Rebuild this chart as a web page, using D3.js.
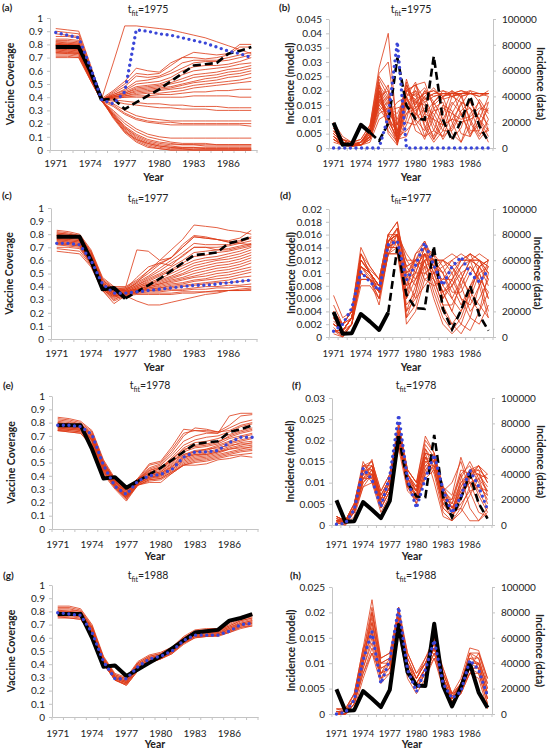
<!DOCTYPE html>
<html><head><meta charset="utf-8">
<script src="https://cdn.jsdelivr.net/npm/d3@7"></script>
<style>body{margin:0;background:#fff}svg text{font-family:Lato,'Open Sans',sans-serif;fill:#222}</style>
</head><body><svg id="c" width="549" height="751"></svg>
<script>
const years = [1971,1972,1973,1974,1975,1976,1977,1978,1979,1980,1981,1982,1983,1984,1985,1986,1987,1988];
const xTickYears = [1971,1974,1977,1980,1983,1986];
const covTicks = [0,0.1,0.2,0.3,0.4,0.5,0.6,0.7,0.8,0.9,1];
const incTicksRight = [0,20000,40000,60000,80000,100000];
const incTicksB = [0,0.005,0.01,0.015,0.02,0.025,0.03,0.035,0.04,0.045];
const incTicksD = [0,0.002,0.004,0.006,0.008,0.01,0.012,0.014,0.016,0.018,0.02];
const incTicksF = [0,0.005,0.01,0.015,0.02,0.025,0.03];
const incTicksH = [0,0.005,0.01,0.015,0.02,0.025];

// observed data
const covData = [.78,.78,.78,.60,.38,.39,.31,.36,.41,.46,.52,.58,.64,.65,.66,.73,.75,.78];
const incData = [19500,2500,3000,18000,12000,5500,19000,70000,33000,22500,22000,71000,22000,6000,21000,40000,17000,5000];

// best-fit (blue dotted)
const blueA = [.89,.87,.85,.63,.38,.35,.44,.91,.90,.88,.87,.85,.83,.81,.78,.75,.73,.70];
const blueB = [0,0,0,0,0,0,.011,.037,0,0,0,0,0,0,0,0,0,0];
const blueC = [.73,.73,.72,.60,.42,.35,.35,.36,.37,.38,.39,.40,.41,.41,.42,.43,.44,.45];
const blueD = [.0009,.002,.0045,.0102,.0086,.0073,.0144,.015,.0089,.0112,.0147,.0112,.0081,.011,.0125,.0099,.0086,.0105];
const blueE = [.78,.78,.77,.71,.48,.32,.26,.36,.40,.41,.45,.54,.58,.58,.59,.65,.69,.69];
const blueF = [.0002,.0004,.0036,.0134,.0107,.0043,.0115,.026,.0107,.004,.011,.0166,.0083,.0028,.0067,.013,.0091,.0036];
const blueG = [.79,.78,.77,.64,.42,.29,.29,.38,.44,.46,.50,.58,.62,.62,.62,.65,.70,.71];
const blueH = [0,.0003,.0028,.0106,.0162,.006,.0106,.021,.0087,.0044,.0087,.0145,.006,.0031,.0044,.0106,.0087,.0035];

// model ensemble (red)
const redA = [
[.92,.91,.90,.65,.39,.66,.94,.94,.93,.92,.91,.89,.87,.85,.82,.79,.76,.73],
[.90,.89,.88,.64,.39,.45,.52,.62,.60,.59,.66,.70,.74,.73,.72,.73,.80,.80],
[.88,.87,.86,.63,.38,.44,.50,.58,.57,.58,.64,.70,.70,.69,.70,.72,.78,.78],
[.86,.86,.85,.62,.38,.43,.48,.56,.55,.56,.60,.66,.68,.68,.68,.70,.72,.74],
[.84,.84,.83,.61,.38,.42,.46,.52,.53,.55,.58,.62,.66,.67,.67,.68,.70,.72],
[.83,.83,.82,.60,.38,.42,.45,.50,.51,.52,.55,.60,.63,.64,.64,.65,.67,.70],
[.82,.82,.81,.60,.38,.41,.44,.48,.49,.50,.53,.57,.60,.61,.62,.63,.65,.66],
[.81,.81,.80,.59,.38,.41,.43,.47,.48,.49,.51,.54,.57,.58,.59,.61,.62,.64],
[.80,.80,.79,.59,.38,.41,.43,.46,.47,.48,.50,.52,.55,.56,.57,.59,.60,.62],
[.80,.79,.79,.58,.38,.40,.42,.45,.46,.47,.48,.50,.52,.54,.55,.57,.58,.60],
[.79,.79,.78,.58,.38,.40,.42,.44,.45,.46,.47,.49,.51,.52,.53,.55,.56,.58],
[.79,.78,.78,.58,.38,.40,.41,.43,.44,.45,.46,.47,.49,.50,.51,.52,.53,.55],
[.78,.78,.77,.57,.38,.40,.41,.42,.43,.43,.44,.45,.47,.48,.49,.50,.51,.52],
[.78,.77,.77,.57,.38,.39,.40,.41,.41,.42,.42,.43,.44,.44,.45,.45,.46,.46],
[.77,.77,.76,.57,.38,.39,.40,.40,.40,.40,.40,.40,.41,.41,.41,.41,.40,.40],
[.77,.76,.76,.56,.38,.38,.37,.36,.35,.35,.34,.34,.33,.33,.33,.32,.32,.32],
[.76,.76,.75,.56,.38,.37,.35,.34,.33,.32,.32,.31,.31,.31,.30,.30,.30,.30],
[.76,.75,.75,.56,.38,.35,.30,.26,.24,.23,.22,.22,.22,.22,.22,.22,.22,.22],
[.75,.75,.74,.55,.38,.34,.28,.24,.22,.21,.21,.20,.20,.20,.20,.20,.20,.20],
[.75,.74,.74,.55,.37,.33,.27,.23,.21,.20,.19,.19,.19,.19,.19,.19,.19,.18],
[.74,.74,.73,.55,.37,.30,.22,.16,.12,.10,.09,.09,.09,.09,.09,.09,.09,.09],
[.74,.73,.73,.54,.37,.29,.20,.14,.10,.08,.06,.05,.05,.05,.04,.04,.04,.04],
[.73,.73,.72,.54,.37,.28,.18,.12,.08,.06,.05,.04,.04,.03,.03,.03,.03,.03],
[.72,.72,.71,.54,.37,.27,.17,.10,.06,.04,.03,.02,.02,.01,.01,.01,.01,.01],
[.71,.71,.70,.53,.37,.26,.15,.08,.04,.02,.01,.01,0,0,0,0,0,0],
[.70,.70,.70,.53,.37,.25,.14,.07,.03,.01,0,0,0,0,0,0,0,0],
[.81,.80,.80,.59,.38,.24,.13,.06,.02,.01,0,0,0,0,0,0,0,0],
[.79,.79,.78,.58,.38,.25,.14,.08,.05,.03,.02,.01,.01,.01,.01,.01,.01,.01],
[.82,.81,.81,.60,.38,.26,.16,.09,.05,.03,.02,.02,.02,.02,.02,.02,.02,.02],
[.80,.80,.79,.59,.38,.27,.17,.11,.07,.05,.04,.04,.04,.04,.04,.04,.04,.04]
];
const redB = [
[.009,.004,.002,.003,.008,.028,.04,.005,.022,.015,.02,.018,.019,.019,.019,.019,.019,.019],
[.008,.003,.002,.002,.007,.025,.02,.003,.02,.022,.017,.019,.02,.019,.019,.019,.019,.019],
[.007,.003,.001,.002,.006,.024,.018,.004,.018,.02,.016,.018,.019,.019,.02,.019,.019,.019],
[.006,.002,.001,.002,.006,.022,.017,.006,.022,.016,.019,.02,.018,.019,.019,.019,.019,.019],
[.005,.002,.001,.002,.005,.021,.016,.008,.024,.014,.018,.021,.017,.018,.019,.019,.018,.019],
[.005,.002,.001,.001,.005,.02,.015,.01,.02,.018,.021,.016,.019,.018,.019,.02,.019,.018],
[.004,.001,.001,.001,.004,.019,.014,.012,.019,.017,.019,.02,.018,.019,.018,.019,.019,.019],
[.004,.002,.001,.002,.004,.018,.02,.002,.018,.023,.012,.016,.02,.018,.019,.019,.019,.019],
[.003,.001,.001,.001,.004,.017,.013,.014,.015,.013,.017,.019,.019,.019,.02,.019,.019,.019],
[.003,.001,.001,.001,.003,.016,.012,.016,.018,.011,.02,.015,.018,.02,.018,.019,.018,.02],
[.008,.003,.001,.002,.007,.023,.008,.002,.014,.02,.01,.004,.012,.02,.012,.004,.01,.018],
[.006,.002,.001,.002,.006,.02,.006,.002,.01,.022,.012,.003,.008,.018,.016,.006,.006,.016],
[.005,.002,.001,.001,.005,.018,.01,.003,.012,.017,.008,.003,.01,.016,.012,.005,.008,.014],
[.004,.002,.001,.001,.004,.015,.018,.002,.008,.016,.015,.006,.004,.012,.018,.01,.004,.01],
[.003,.001,.001,.001,.003,.013,.016,.003,.004,.012,.018,.01,.003,.008,.016,.014,.005,.006],
[.007,.003,.001,.002,.005,.016,.022,.004,.006,.01,.014,.012,.006,.006,.012,.014,.01,.006],
[.004,.001,.0005,.001,.003,.012,.014,.006,.009,.008,.012,.01,.008,.01,.009,.01,.012,.008],
[.002,.001,.0005,.001,.002,.01,.012,.008,.016,.006,.004,.014,.016,.005,.002,.012,.016,.006],
[.006,.002,.001,.001,.004,.014,.009,.004,.018,.009,.003,.011,.018,.009,.002,.008,.017,.012],
[.005,.002,.001,.002,.006,.019,.012,.001,.021,.014,.004,.006,.015,.013,.005,.004,.013,.016],
[.003,.001,.001,.001,.004,.015,.011,.005,.023,.01,.006,.016,.01,.003,.007,.017,.009,.002],
[.007,.002,.001,.002,.006,.022,.005,.001,.016,.019,.007,.002,.006,.015,.019,.009,.003,.007],
[.004,.001,.001,.001,.004,.017,.01,.006,.012,.014,.016,.008,.004,.007,.013,.016,.01,.004],
[.008,.003,.002,.003,.008,.026,.03,.008,.02,.022,.023,.014,.008,.01,.015,.02,.016,.01],
[.005,.002,.001,.002,.005,.02,.01,.003,.017,.012,.009,.013,.014,.012,.01,.011,.014,.013]
];
const redC = [
[.83,.82,.80,.68,.47,.40,.40,.45,.52,.60,.68,.76,.87,.86,.85,.83,.82,.80],
[.82,.81,.79,.67,.46,.39,.39,.68,.67,.60,.62,.70,.78,.77,.76,.75,.77,.83],
[.81,.80,.78,.66,.45,.38,.39,.44,.50,.57,.62,.70,.78,.77,.76,.74,.75,.78],
[.80,.79,.78,.65,.44,.38,.38,.43,.48,.54,.60,.66,.73,.72,.72,.72,.74,.77],
[.79,.79,.77,.64,.43,.37,.38,.42,.47,.52,.58,.63,.70,.70,.70,.71,.73,.75],
[.78,.78,.77,.63,.42,.36,.37,.41,.46,.50,.55,.60,.66,.67,.68,.69,.71,.73],
[.77,.77,.76,.62,.42,.36,.37,.41,.45,.49,.53,.58,.63,.64,.66,.67,.69,.71],
[.76,.76,.75,.61,.41,.35,.36,.40,.44,.48,.52,.56,.60,.62,.63,.65,.67,.70],
[.75,.75,.74,.60,.40,.34,.36,.40,.43,.46,.50,.54,.58,.60,.61,.63,.65,.68],
[.74,.74,.73,.60,.40,.34,.35,.39,.42,.45,.48,.52,.56,.58,.60,.61,.63,.66],
[.73,.73,.72,.59,.39,.33,.35,.39,.42,.44,.47,.50,.54,.56,.58,.59,.61,.64],
[.72,.72,.71,.58,.38,.32,.34,.38,.41,.43,.46,.49,.52,.54,.56,.57,.59,.62],
[.80,.79,.78,.64,.43,.37,.37,.38,.40,.42,.45,.47,.50,.52,.54,.55,.57,.60],
[.79,.78,.77,.63,.42,.36,.36,.38,.40,.42,.44,.46,.48,.50,.52,.53,.55,.58],
[.78,.77,.76,.62,.41,.35,.36,.37,.39,.41,.43,.45,.47,.48,.50,.51,.53,.55],
[.77,.76,.75,.61,.40,.35,.35,.37,.39,.40,.42,.43,.45,.46,.48,.49,.51,.53],
[.76,.75,.74,.60,.40,.34,.35,.37,.38,.39,.41,.42,.44,.45,.46,.47,.49,.51],
[.75,.74,.73,.59,.39,.33,.34,.36,.38,.39,.40,.41,.42,.43,.44,.45,.47,.48],
[.74,.73,.72,.58,.39,.33,.34,.36,.37,.38,.39,.40,.41,.42,.43,.43,.44,.45],
[.73,.72,.71,.58,.38,.32,.34,.36,.37,.37,.38,.38,.39,.40,.40,.41,.41,.42],
[.72,.71,.70,.57,.38,.31,.33,.35,.36,.36,.37,.37,.38,.38,.39,.39,.40,.40],
[.70,.70,.69,.57,.38,.30,.34,.35,.35,.35,.35,.36,.36,.36,.37,.37,.37,.38],
[.67,.66,.65,.55,.37,.27,.33,.34,.34,.34,.34,.35,.35,.36,.36,.37,.37,.37],
[.69,.68,.67,.56,.37,.29,.33,.29,.26,.26,.28,.30,.32,.34,.35,.37,.38,.39],
[.81,.80,.79,.66,.45,.38,.38,.47,.55,.58,.62,.72,.79,.78,.76,.74,.73,.72],
[.79,.78,.78,.64,.43,.37,.37,.43,.52,.58,.56,.64,.70,.70,.68,.68,.70,.72]
];
const redD = [
[.0065,.003,.004,.014,.011,.009,.016,.018,.010,.008,.013,.012,.012,.013,.012,.012,.012,.011],
[.005,.002,.004,.013,.010,.008,.015,.017,.012,.010,.014,.011,.010,.012,.013,.012,.011,.012],
[.004,.002,.003,.012,.010,.008,.015,.016,.013,.011,.013,.010,.009,.011,.012,.013,.012,.010],
[.003,.001,.003,.011,.0095,.007,.014,.016,.011,.012,.014,.012,.008,.010,.012,.012,.013,.012],
[.002,.001,.003,.010,.009,.007,.014,.015,.009,.013,.015,.011,.007,.009,.011,.013,.012,.009],
[.001,.0005,.002,.010,.009,.006,.013,.015,.008,.012,.015,.012,.006,.008,.011,.012,.011,.008],
[.002,.001,.003,.011,.010,.008,.015,.015,.007,.010,.014,.013,.008,.006,.009,.012,.012,.010],
[.003,.002,.004,.012,.0105,.009,.016,.014,.006,.009,.013,.012,.010,.007,.007,.010,.012,.011],
[.001,.001,.003,.009,.009,.007,.014,.014,.005,.007,.012,.013,.011,.008,.005,.008,.011,.012],
[.0005,0,.002,.008,.008,.006,.013,.013,.004,.006,.011,.012,.012,.010,.006,.005,.008,.011],
[.002,.001,.003,.010,.009,.008,.015,.016,.003,.005,.010,.011,.012,.011,.008,.004,.006,.009],
[.004,.002,.004,.013,.010,.007,.014,.017,.002,.004,.009,.010,.011,.012,.010,.006,.004,.007],
[.003,.001,.003,.011,.009,.005,.013,.016,.004,.008,.012,.008,.004,.002,.004,.008,.010,.006],
[.002,.001,.003,.010,.009,.007,.015,.017,.010,.011,.012,.007,.003,.001,.003,.007,.011,.009],
[.001,0,.002,.009,.009,.008,.014,.015,.011,.012,.011,.006,.002,.0005,.002,.006,.010,.011],
[.003,.002,.004,.012,.010,.008,.016,.018,.009,.010,.010,.009,.005,.002,.0005,.003,.008,.012],
[.002,.001,.003,.010,.009,.007,.014,.014,.008,.009,.011,.010,.007,.004,.002,.001,.004,.010],
[.004,.002,.004,.013,.011,.009,.016,.016,.012,.012,.009,.008,.009,.009,.006,.003,.002,.005],
[.001,.001,.002,.009,.009,.006,.013,.013,.006,.011,.013,.009,.005,.005,.008,.011,.009,.004],
[.002,.001,.003,.011,.010,.008,.015,.016,.003,.007,.013,.011,.007,.004,.009,.012,.008,.003],
[.003,.002,.003,.012,.010,.007,.014,.015,.009,.006,.008,.010,.012,.011,.009,.007,.005,.003],
[.001,.0005,.002,.010,.009,.007,.013,.014,.007,.013,.014,.010,.006,.009,.012,.013,.010,.006],
[.0025,.001,.003,.011,.010,.008,.015,.016,.011,.009,.012,.012,.010,.006,.004,.007,.011,.012],
[.0015,0,.002,.010,.009,.007,.014,.015,.010,.012,.013,.009,.007,.008,.010,.011,.009,.007]
];
const redE = [
[.84,.83,.81,.74,.52,.38,.28,.38,.49,.51,.62,.75,.74,.73,.72,.85,.87,.87],
[.83,.82,.80,.73,.51,.37,.27,.37,.46,.49,.58,.70,.76,.75,.73,.78,.85,.86],
[.82,.81,.79,.72,.50,.36,.27,.37,.45,.48,.56,.66,.70,.72,.72,.76,.80,.82],
[.81,.80,.79,.71,.49,.36,.26,.36,.44,.46,.54,.63,.67,.69,.70,.73,.77,.79],
[.80,.79,.78,.70,.48,.35,.26,.36,.43,.45,.52,.61,.65,.66,.68,.71,.74,.76],
[.79,.79,.78,.70,.48,.35,.26,.36,.42,.44,.51,.59,.63,.64,.66,.69,.72,.74],
[.79,.78,.77,.69,.47,.34,.25,.35,.41,.43,.50,.58,.61,.62,.64,.68,.70,.72],
[.78,.78,.77,.69,.47,.34,.25,.35,.41,.43,.49,.56,.59,.60,.63,.66,.69,.71],
[.78,.77,.76,.68,.46,.34,.25,.35,.40,.42,.48,.55,.58,.59,.62,.65,.67,.69],
[.77,.77,.76,.68,.46,.33,.25,.35,.40,.42,.47,.54,.57,.58,.60,.64,.66,.68],
[.77,.76,.75,.67,.45,.33,.24,.34,.39,.41,.46,.53,.56,.57,.59,.62,.65,.66],
[.76,.76,.75,.67,.45,.33,.24,.34,.39,.40,.45,.52,.55,.56,.58,.61,.63,.65],
[.76,.75,.74,.66,.44,.32,.24,.34,.38,.40,.45,.51,.54,.55,.57,.60,.62,.63],
[.75,.75,.74,.66,.44,.32,.23,.34,.38,.39,.44,.50,.53,.54,.56,.58,.60,.62],
[.75,.74,.73,.65,.43,.32,.23,.33,.37,.38,.43,.49,.52,.53,.55,.57,.59,.60],
[.74,.74,.73,.64,.43,.31,.23,.33,.37,.38,.43,.48,.51,.52,.54,.56,.58,.59],
[.74,.73,.72,.63,.42,.31,.22,.33,.36,.37,.42,.48,.50,.51,.53,.55,.56,.57],
[.74,.73,.72,.62,.41,.30,.21,.33,.35,.35,.42,.48,.48,.49,.52,.53,.55,.54],
[.80,.79,.78,.71,.50,.37,.29,.37,.48,.50,.60,.72,.74,.74,.73,.74,.78,.80],
[.78,.77,.77,.70,.49,.37,.30,.38,.42,.46,.53,.60,.62,.63,.65,.70,.73,.75],
[.77,.76,.76,.68,.48,.35,.29,.37,.44,.47,.51,.56,.58,.60,.61,.63,.64,.64],
[.76,.75,.75,.67,.46,.36,.28,.36,.39,.41,.47,.54,.56,.56,.58,.60,.61,.61]
];
const redF = [
[.002,.001,.004,.013,.015,.008,.012,.024,.013,.010,.020,.017,.009,.005,.010,.013,.014,.012],
[.0015,.001,.005,.014,.014,.007,.011,.023,.012,.009,.019,.016,.008,.004,.009,.012,.013,.011],
[.001,.0005,.004,.012,.0155,.006,.010,.022,.012,.008,.018,.015,.007,.003,.008,.012,.012,.009],
[.001,.001,.003,.011,.014,.006,.010,.022,.011,.008,.017,.016,.008,.004,.007,.010,.011,.008],
[.0005,.0005,.003,.010,.013,.005,.009,.021,.011,.007,.016,.015,.007,.005,.012,.014,.010,.006],
[.0005,0,.003,.009,.012,.005,.009,.020,.010,.007,.015,.015,.008,.006,.013,.012,.008,.004],
[.001,.001,.004,.013,.012,.004,.008,.020,.011,.006,.014,.016,.006,.003,.011,.015,.011,.005],
[.002,.001,.005,.015,.011,.004,.008,.022,.010,.005,.012,.017,.005,.002,.009,.013,.013,.007],
[.0015,.0005,.004,.013,.010,.003,.007,.021,.009,.005,.013,.016,.004,.002,.006,.011,.014,.010],
[.001,.0005,.003,.011,.011,.004,.008,.019,.009,.006,.012,.014,.006,.004,.008,.010,.009,.007],
[.0005,0,.002,.009,.010,.005,.009,.018,.008,.006,.011,.013,.005,.003,.010,.012,.007,.003],
[.001,.001,.004,.012,.014,.007,.011,.023,.012,.009,.016,.012,.003,.001,.004,.009,.012,.011],
[.002,.001,.005,.014,.015,.008,.012,.024,.013,.010,.017,.010,.002,.001,.003,.007,.011,.012],
[.001,.0005,.003,.011,.013,.006,.010,.021,.010,.008,.015,.013,.004,.002,.005,.008,.009,.008],
[.0015,.001,.004,.012,.012,.006,.010,.020,.009,.007,.013,.015,.009,.007,.016,.010,.005,.002],
[.001,.001,.004,.013,.013,.006,.011,.022,.011,.008,.014,.014,.008,.010,.015,.008,.003,.002],
[.0005,.0005,.003,.010,.012,.005,.009,.019,.010,.007,.016,.014,.006,.006,.012,.004,.001,.003],
[.002,.001,.005,.014,.013,.005,.009,.022,.012,.008,.018,.013,.005,.003,.004,.001,.001,.004],
[.001,.0005,.004,.012,.014,.007,.011,.021,.013,.010,.021,.017,.009,.004,.006,.012,.014,.010],
[.001,.001,.003,.011,.012,.005,.009,.020,.011,.009,.017,.016,.007,.003,.007,.013,.012,.008]
];
const redG = [
[.84,.84,.82,.70,.46,.33,.30,.42,.47,.49,.53,.61,.66,.67,.67,.72,.76,.78],
[.83,.83,.81,.69,.45,.32,.29,.41,.46,.48,.53,.60,.65,.66,.67,.71,.75,.77],
[.82,.82,.80,.68,.45,.32,.29,.41,.46,.48,.52,.60,.65,.66,.66,.70,.74,.76],
[.81,.81,.80,.68,.44,.31,.28,.40,.45,.47,.52,.59,.64,.65,.66,.69,.73,.75],
[.81,.80,.79,.67,.44,.31,.28,.40,.45,.47,.51,.59,.64,.65,.65,.69,.73,.75],
[.80,.80,.79,.67,.43,.30,.27,.39,.44,.47,.51,.58,.63,.64,.65,.68,.72,.74],
[.80,.79,.78,.66,.43,.30,.27,.39,.44,.46,.51,.58,.63,.64,.64,.68,.71,.73],
[.79,.79,.78,.66,.43,.30,.27,.38,.44,.46,.50,.58,.62,.63,.64,.67,.71,.73],
[.79,.78,.77,.65,.42,.29,.26,.38,.43,.46,.50,.57,.62,.63,.63,.67,.70,.72],
[.78,.78,.77,.65,.42,.29,.26,.37,.43,.45,.50,.57,.62,.62,.63,.66,.70,.72],
[.78,.77,.76,.64,.41,.29,.26,.37,.42,.45,.49,.57,.61,.62,.63,.66,.69,.71],
[.77,.77,.76,.64,.41,.28,.25,.36,.42,.45,.49,.56,.61,.62,.62,.65,.69,.71],
[.76,.76,.75,.63,.41,.28,.25,.36,.42,.44,.49,.56,.61,.61,.62,.65,.68,.70],
[.76,.75,.74,.62,.40,.28,.24,.35,.41,.44,.48,.56,.60,.61,.62,.64,.68,.69],
[.75,.75,.74,.62,.40,.28,.24,.35,.41,.44,.48,.55,.60,.61,.61,.64,.67,.69]
];
const redH = [
[.001,.001,.004,.013,.0225,.011,.012,.021,.012,.008,.011,.015,.009,.004,.007,.013,.0125,.007],
[.001,.0005,.004,.012,.021,.010,.011,.020,.011,.007,.010,.015,.008,.004,.006,.012,.012,.006],
[.0005,.0005,.003,.012,.020,.010,.011,.020,.011,.007,.010,.014,.008,.0035,.006,.012,.011,.005],
[.0005,.0005,.003,.011,.019,.009,.010,.019,.010,.007,.010,.014,.008,.0035,.006,.011,.011,.005],
[.0005,0,.003,.011,.018,.009,.010,.019,.010,.006,.009,.014,.007,.003,.005,.011,.010,.004],
[.0005,0,.003,.010,.017,.008,.010,.019,.009,.006,.009,.013,.007,.003,.005,.010,.010,.004],
[0,0,.002,.010,.016,.008,.009,.018,.009,.006,.009,.013,.007,.003,.005,.010,.009,.003],
[0,0,.002,.009,.015,.008,.009,.018,.009,.005,.009,.013,.006,.003,.005,.009,.009,.003],
[0,0,.002,.009,.014,.007,.009,.017,.008,.005,.008,.012,.006,.0025,.004,.009,.008,.002],
[0,0,.002,.008,.013,.007,.008,.017,.008,.005,.008,.012,.006,.0025,.004,.008,.008,.002],
[0,0,.001,.007,.012,.006,.008,.016,.007,.004,.007,.011,.005,.002,.004,.008,.007,.001],
[.001,.001,.004,.013,.016,.007,.010,.021,.010,.007,.011,.014,.007,.003,.006,.012,.009,.003],
[.0005,0,.003,.010,.020,.011,.012,.018,.008,.005,.008,.011,.006,.003,.005,.009,.012,.007],
[0,0,.002,.008,.012,.008,.011,.020,.012,.008,.010,.013,.009,.004,.005,.008,.010,.006],
[.0005,.0005,.003,.011,.018,.010,.010,.019,.010,.006,.009,.013,.007,.003,.006,.010,.010,.004]
];

const RED = '#de3a16', BLUE = '#3a46d8', AXIS = '#c4c4c4';
const svg = d3.select('#c');

const panels = [
 {lab:'(a)', kind:'cov', fit:1975, red:redA, blue:blueA, x0:50, x1:257, yt:18, yb:150, lx:2, ly:11, tx:148, ty:13, xty:167, yty:181, ytx:13.5},
 {lab:'(c)', kind:'cov', fit:1977, red:redC, blue:blueC, x0:51, x1:257, yt:208, yb:339, lx:2, ly:199, tx:148, ty:201.5, xty:356.5, yty:370.5, ytx:13},
 {lab:'(e)', kind:'cov', fit:1978, red:redE, blue:blueE, x0:52, x1:258, yt:396, yb:529, lx:3, ly:389, tx:150, ty:389, xty:547.5, yty:559.5, ytx:15},
 {lab:'(g)', kind:'cov', fit:1988, red:redG, blue:blueG, x0:52, x1:258, yt:585, yb:717, lx:3, ly:579, tx:148, ty:579, xty:736.5, yty:748, ytx:15},
 {lab:'(b)', kind:'inc', fit:1975, red:redB, blue:blueB, ymax:0.045, ticks:incTicksB, x0:329, x1:493, yt:19, yb:148, lx:279, ly:11, tx:411, ty:13, xty:167, yty:181, ytx:293.5, rtx:536.5},
 {lab:'(d)', kind:'inc', fit:1977, red:redD, blue:blueD, ymax:0.02, ticks:incTicksD, x0:329, x1:493, yt:209, yb:337, lx:280, ly:199, tx:411, ty:201.5, xty:356.5, yty:370.5, ytx:295, rtx:533.5},
 {lab:'(f)', kind:'inc', fit:1978, red:redF, blue:blueF, ymax:0.03, ticks:incTicksF, x0:332, x1:492, yt:398, yb:525, lx:292, ly:389, tx:416, ty:389, xty:547.5, yty:559.5, ytx:293.5, rtx:536.5},
 {lab:'(h)', kind:'inc', fit:1988, red:redH, blue:blueH, ymax:0.025, ticks:incTicksH, x0:332, x1:492, yt:587, yb:714, lx:290, ly:579, tx:416, ty:579, xty:736.5, yty:748, ytx:295, rtx:535.5}
];

function fmt(v){ return v===0 ? '0' : String(v); }

panels.forEach(p => {
  const g = svg.append('g');
  const x = d3.scaleBand().domain(years).range([p.x0, p.x1]);
  const cx = yr => x(yr) + x.bandwidth()/2;
  const ymax = p.kind==='cov' ? 1 : p.ymax;
  const y = d3.scaleLinear().domain([0, ymax]).range([p.yb, p.yt]);
  const yR = d3.scaleLinear().domain([0, 100000]).range([p.yb, p.yt]);

  g.append('g').attr('transform', `translate(${p.x0},0)`)
    .call(d3.axisLeft(y).tickValues(p.kind==='cov'?covTicks:p.ticks).tickFormat(fmt).tickSize(3).tickSizeOuter(0).tickPadding(4));
  if (p.kind==='inc') {
    g.append('g').attr('transform', `translate(${p.x1},0)`)
      .call(d3.axisRight(yR).tickValues(incTicksRight).tickFormat(d=>String(d)).tickSize(3).tickSizeOuter(0).tickPadding(6));
  }
  g.append('g').attr('class','xax').attr('transform', `translate(0,${p.yb})`)
    .call(d3.axisBottom(x).tickValues(xTickYears).tickSize(0).tickSizeOuter(0).tickPadding(0))
    .call(s => s.selectAll('text').attr('y', p.xty - p.yb).attr('dy', 0));
  g.append('g').selectAll('line').data(years).join('line')
    .attr('x1', d => x(d)).attr('x2', d => x(d)).attr('y1', p.yb).attr('y2', p.yb+3)
    .attr('stroke', AXIS);
  g.append('line').attr('x1', p.x1).attr('x2', p.x1).attr('y1', p.yb).attr('y2', p.yb+3).attr('stroke', AXIS);

  g.selectAll('.domain, .tick line').attr('stroke', AXIS);
  g.selectAll('.tick text').style('font-size', '10px').attr('fill', '#262626');
  g.selectAll('.xax .tick text').style('font-size', p.kind==='inc' ? '9.5px' : '10px');

  const line = yscale => d3.line().x(d => cx(d[0])).y(d => yscale(d[1]));
  const pairs = arr => years.map((yr, i) => [yr, arr[i]]);

  g.append('g').selectAll('path').data(p.red).join('path')
    .attr('d', r => line(y)(pairs(r)))
    .attr('fill', 'none').attr('stroke', RED).attr('stroke-width', 0.9).attr('stroke-opacity', 0.9)
    .attr('stroke-linejoin', 'round');

  const obs = p.kind==='cov' ? covData : incData;
  const ys = p.kind==='cov' ? y : yR;
  const all = pairs(obs);
  g.append('path').attr('d', line(ys)(all.filter(d => d[0] <= p.fit)))
    .attr('fill','none').attr('stroke','#000').attr('stroke-width',4).attr('stroke-linejoin','round');
  if (p.fit < 1988) {
    g.append('path').attr('d', line(ys)(all.filter(d => d[0] >= p.fit)))
      .attr('fill','none').attr('stroke','#000').attr('stroke-width',2.6).attr('stroke-dasharray','8 4');
  }

  g.append('path').attr('d', line(y)(pairs(p.blue)))
    .attr('fill','none').attr('stroke',BLUE).attr('stroke-width',3.4)
    .attr('stroke-linecap','round').attr('stroke-dasharray','0 5.6');

  g.append('text').attr('x', p.lx).attr('y', p.ly).style('font-size','10px').style('font-weight','bold').text(p.lab);
  const t = g.append('text').attr('x', p.tx).attr('y', p.ty).attr('text-anchor','middle').style('font-size','10.5px');
  t.append('tspan').text('t');
  t.append('tspan').attr('dy', 2.5).style('font-size','7px').text('fit');
  t.append('tspan').attr('dy', -2.5).text('=' + p.fit);
  g.append('text').attr('x', (p.x0+p.x1)/2).attr('y', p.yty).attr('text-anchor','middle')
    .style('font-size','10.5px').style('font-weight','bold').text('Year');
  const yc = (p.yt + p.yb)/2;
  g.append('text').attr('transform', `translate(${p.ytx},${yc}) rotate(-90)`).attr('text-anchor','middle')
    .style('font-size','10.5px').style('font-weight','bold')
    .text(p.kind==='cov' ? 'Vaccine Coverage' : 'Incidence (model)');
  if (p.kind==='inc') {
    g.append('text').attr('transform', `translate(${p.rtx},${yc}) rotate(90)`).attr('text-anchor','middle')
      .style('font-size','10.5px').style('font-weight','bold').text('Incidence (data)');
  }
});
</script></body></html>
